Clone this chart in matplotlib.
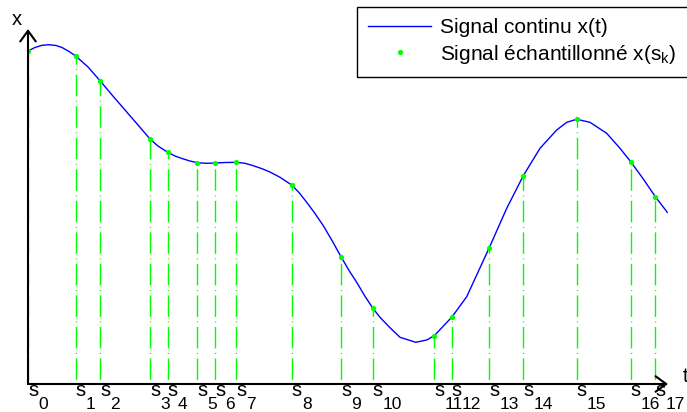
import numpy as np
import matplotlib.pyplot as plt
from matplotlib.lines import Line2D

plt.rcParams['font.family'] = ['Liberation Sans', 'DejaVu Sans']
plt.rcParams['lines.scale_dashes'] = False

# signal continu x(t)
curve_t = [0.000, 0.109, 0.219, 0.328, 0.438, 0.531, 0.641, 0.745, 0.938, 1.125,
           1.313, 1.516, 1.719, 1.906, 2.031, 2.183, 2.297, 2.406, 2.531, 2.645,
           2.781, 2.927, 3.094, 3.250, 3.391, 3.520, 3.656, 3.781, 3.938, 4.120,
           4.234, 4.355, 4.484, 4.614, 4.750, 4.891, 5.016, 5.138, 5.258, 5.386,
           5.500, 5.656, 5.813, 6.058, 6.230, 6.348, 6.620, 6.855, 7.203, 7.480,
           7.739, 8.000, 8.261, 8.417, 8.573, 8.781, 9.042, 9.250, 9.417, 9.614,
           9.802, 9.989]
curve_x = [3.330, 3.365, 3.387, 3.393, 3.385, 3.365, 3.325, 3.280, 3.170, 3.033,
           2.890, 2.740, 2.590, 2.450, 2.380, 2.317, 2.280, 2.255, 2.230, 2.213,
           2.207, 2.210, 2.215, 2.217, 2.207, 2.183, 2.153, 2.120, 2.067, 1.990,
           1.915, 1.817, 1.705, 1.583, 1.435, 1.273, 1.135, 1.015, 0.885, 0.760,
           0.667, 0.563, 0.467, 0.417, 0.440, 0.483, 0.667, 0.873, 1.357, 1.757,
           2.083, 2.357, 2.540, 2.617, 2.647, 2.617, 2.507, 2.357, 2.223, 2.050,
           1.873, 1.717]

# instants d'echantillonnage s_k et valeurs x(s_k)
sample_t = [0.000, 0.745, 1.125, 1.906, 2.183, 2.645, 2.927, 3.250, 4.120, 4.891,
            5.386, 6.348, 6.620, 7.203, 7.739, 8.573, 9.417, 9.802]
sample_x = [3.330, 3.280, 3.033, 2.450, 2.317, 2.213, 2.210, 2.217, 1.990, 1.273,
            0.760, 0.483, 0.667, 1.357, 2.083, 2.647, 2.223, 1.873]
sample_names = [str(k) for k in range(len(sample_t))]

fig = plt.figure(figsize=(6.87, 4.12), dpi=100)
ax = fig.add_axes([28/687, 28/412, 640/687, 355/412])
ax.set_xlim(0, 10)
ax.set_ylim(0, 3.55)
for sp in ax.spines.values():
    sp.set_visible(False)
ax.set_xticks([])
ax.set_yticks([])

# traits verticaux mixtes
ax.vlines(sample_t, 0, sample_x, colors='#00ff00', lw=1.0,
          linestyles=[(19.46, (15.5, 3.24, 0.72, 3.24))], zorder=1)
ax.plot(curve_t, curve_x, color='#0000ff', lw=1.0, zorder=2)
ax.plot(sample_t, sample_x, 'o', color='#00ff00', ms=3.8, mew=0, zorder=3)

# axes avec fleches
arrow = dict(arrowstyle='->,head_length=0.55,head_width=0.4', lw=1.5, color='black',
             shrinkA=0, shrinkB=0, mutation_scale=14)
ax.annotate('', xy=(0, 1), xytext=(0, 0), xycoords='axes fraction',
            arrowprops=arrow, annotation_clip=False)
ax.annotate('', xy=(1, 0), xytext=(0, 0), xycoords='axes fraction',
            arrowprops=arrow, annotation_clip=False)

fig.text(12/687, 1 - 25/412, 'x', fontsize=14.5, va='baseline')
fig.text(683/687, 1 - 382/412, 't', fontsize=14.5, va='baseline')

# etiquettes s_k
for t, name in zip(sample_t, sample_names):
    ax.annotate('s', xy=(t, 0), xytext=(0, -8.4), textcoords='offset points',
                ha='left', va='baseline', fontsize=14.5, annotation_clip=False)
    ax.annotate(name, xy=(t, 0), xytext=(7.4, -18), textcoords='offset points',
                ha='left', va='baseline', fontsize=12.5, annotation_clip=False)

handles = [Line2D([], [], color='#0000ff', lw=1.0),
           Line2D([], [], ls='none', marker='o', color='#00ff00', ms=3.8, mew=0)]
labels = ['Signal continu x(t)', 'Signal échantillonné x(s$_\\mathregular{k}$)']
leg = fig.legend(handles, labels, loc='upper left', bbox_to_anchor=(357/687, 1 - 7/412),
                 bbox_transform=fig.transFigure, borderaxespad=0, fontsize=15,
                 fancybox=False, framealpha=1, edgecolor='black', handlelength=3.0,
                 handletextpad=0.45, borderpad=0.55, labelspacing=0.25)
leg.get_frame().set_linewidth(1.0)

fig.savefig('out.png', dpi=100)
